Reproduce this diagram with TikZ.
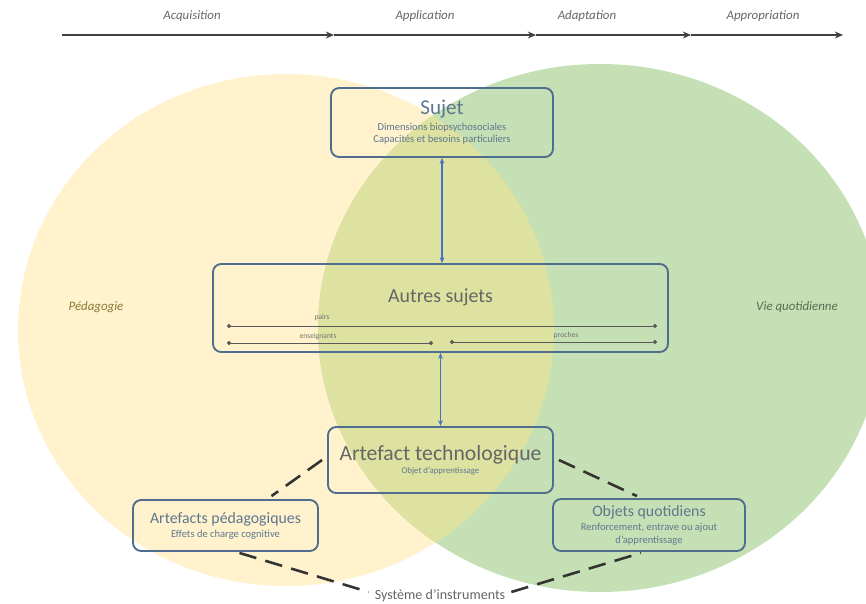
\documentclass[tikz,border=0pt]{standalone}
\usepackage{fontspec}
\setmainfont{Carlito}
\usetikzlibrary{arrows.meta,calc}

\definecolor{jaune}{HTML}{FFF2CC}
\definecolor{vert}{HTML}{C5E0B4}
\definecolor{mixte}{RGB}{222,226,160}
\definecolor{cadre}{HTML}{4F6D8F}
\definecolor{titre}{HTML}{5E7791}
\definecolor{fleche}{HTML}{4472C4}
\definecolor{trait}{HTML}{404040}
\definecolor{olive}{HTML}{8A7A3A}
\definecolor{vertfonce}{HTML}{5C6B52}

\begin{document}
\begin{tikzpicture}[
    x=0.03cm, y=-0.03cm,
    box/.style={draw=cadre, line width=1.6pt, rounded corners=7pt, inner sep=2pt, align=center, text=titre, font=\fontsize{9}{11}\selectfont},
    phase/.style={font=\fontsize{11}{13}\selectfont\itshape, text=trait!80},
    domaine/.style={font=\fontsize{11}{13}\selectfont\itshape},
    arr/.style={-{Stealth[length=7pt,width=6pt]}, line width=1.1pt, draw=trait},
    lien/.style={{Stealth[length=5pt,width=4pt]}-{Stealth[length=5pt,width=4pt]}, line width=1pt, draw=fleche},
    bout/.style={{Circle[length=3.5pt]}-{Circle[length=3.5pt]}, line width=0.6pt, draw=black!65},
    petit/.style={font=\fontsize{6.5}{7.5}\selectfont, text=black!55, inner sep=1pt},
    tiret/.style={line width=2.2pt, draw=black!80, dash pattern=on 15pt off 8pt}
]
\useasboundingbox (0,0) rectangle (866,603);

% domaines
\fill[jaune] (286,330) ellipse [x radius=268, y radius=256];
\fill[vert] (600,328) ellipse [x radius=282, y radius=264];
\begin{scope}
  \clip (286,330) ellipse [x radius=268, y radius=256];
  \fill[mixte] (600,328) ellipse [x radius=282, y radius=264];
\end{scope}
\node[domaine, text=olive] (peda) at (96,307) {Pédagogie};
\node[domaine, text=vertfonce] (vie) at (797,307) {Vie quotidienne};

% phases
\coordinate (t0) at (62,35);
\coordinate (t1) at (334,35);
\coordinate (t2) at (536,35);
\coordinate (t3) at (691,35);
\coordinate (t4) at (843,35);
\draw[arr] (t0) -- (t1);
\draw[arr] (t1) -- (t2);
\draw[arr] (t2) -- (t3);
\draw[arr] (t3) -- (t4);
\node[phase] (acq) at (192,16) {Acquisition};
\node[phase] (appl) at (425,16) {Application};
\node[phase] (adap) at (587,16) {Adaptation};
\node[phase] (appr) at (763,16) {Appropriation};

% boites
\node[box, minimum width=6.66cm, minimum height=2.07cm] (sujet) at (442,122.5)
  {{\fontsize{18}{20}\selectfont Sujet}\\[2pt]Dimensions biopsychosociales\\Capacités et besoins particuliers};
\node[box, minimum width=13.65cm, minimum height=2.64cm] (autres) at (440.5,308) {};
\node[text=black!60, font=\fontsize{17}{19}\selectfont] (autresT) at (440.5,297) {Autres sujets};
\node[box, minimum width=6.75cm, minimum height=1.98cm, font=\fontsize{7.5}{9}\selectfont] (artefact) at (440.5,460)
  {{\fontsize{18.5}{21}\selectfont\color{black!60}Artefact technologique}\\[2pt]Objet d'apprentissage};
\node[box, minimum width=5.55cm, minimum height=1.53cm] (ped) at (225.5,525.5)
  {{\fontsize{13.5}{15}\selectfont Artefacts pédagogiques}\\[1pt]Effets de charge cognitive};
\node[box, minimum width=5.76cm, minimum height=1.56cm] (objets) at (649,525)
  {{\fontsize{13.5}{15}\selectfont Objets quotidiens}\\[1pt]Renforcement, entrave ou ajout\\d'apprentissage};
\node[text=black!60, font=\fontsize{12}{14}\selectfont] (systeme) at (440,596) {Système d'instruments};

% relations entre sujets
\coordinate (p1) at (227,326);
\coordinate (p2) at (657,326);
\coordinate (e1) at (227,343);
\coordinate (e2) at (433,343);
\coordinate (r1) at (450,342);
\coordinate (r2) at (657,342);
\draw[bout] (p1) -- (p2);
\draw[bout] (e1) -- (e2);
\draw[bout] (r1) -- (r2);
\node[petit] (pairs) at (322,317) {pairs};
\node[petit] (ens) at (318,337) {enseignants};
\node[petit] (proches) at (566,335) {proches};

\draw[lien] (sujet.south) -- (sujet.south |- autres.north);
\draw[lien] (autres.south) -- (autres.south |- artefact.north);

% systeme d'instruments
\draw[tiret] ($(artefact.west)+(-5,0)$) -- ($(ped.north)+(46,-3)$);
\draw[tiret] ($(artefact.east)+(5,0)$) -- ($(objets.north)+(-12,-2)$);
\draw[tiret] ($(ped.south)+(14,1)$) -- ($(systeme.west)+(-2,-4)$);
\draw[tiret] ($(systeme.east)+(2,-4)$) -- ($(objets.south)+(-8,1)$);
\end{tikzpicture}
\end{document}
